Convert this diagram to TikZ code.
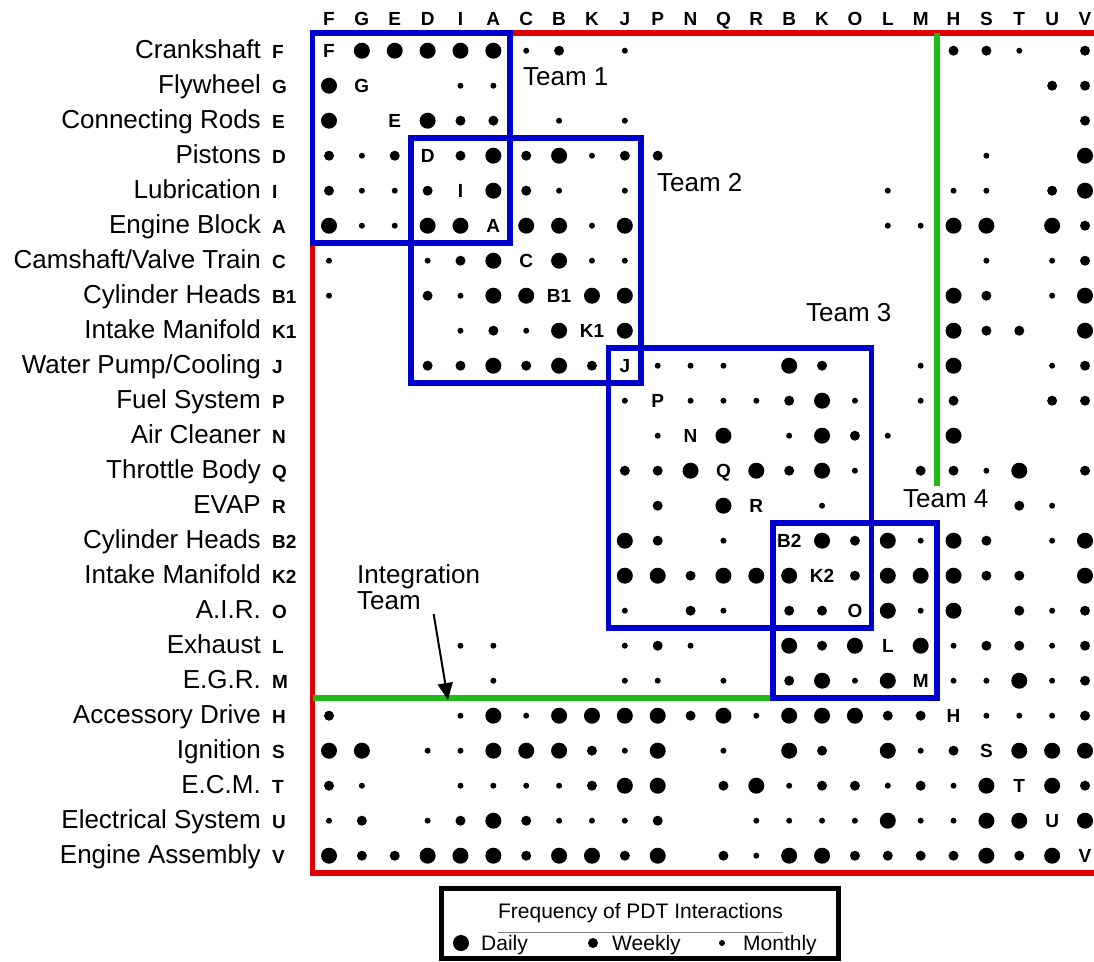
\documentclass[tikz,border=0pt]{standalone}
\usepackage{fontspec}
\setmainfont{Liberation Sans}
\usetikzlibrary{arrows.meta}

\definecolor{dsmred}{RGB}{222,0,0}
\definecolor{teamblue}{RGB}{0,0,204}
\definecolor{intgreen}{RGB}{34,184,24}

\begin{document}
\begin{tikzpicture}[
    x=1pt, y=-1pt,
    rowname/.style={anchor=base east, inner sep=0pt, font=\fontsize{26}{26}\selectfont},
    rowtag/.style={anchor=base west, inner sep=0pt, font=\fontsize{19}{19}\selectfont\bfseries},
    celltag/.style={anchor=base, inner sep=0pt, font=\fontsize{19}{19}\selectfont\bfseries},
    teamlbl/.style={anchor=base west, inner sep=0pt, font=\fontsize{26}{26}\selectfont},
    legtext/.style={anchor=base west, inner sep=0pt, font=\fontsize{21}{21}\selectfont},
    teambox/.style={draw=teamblue, line width=5.5pt},
    border/.style={draw=dsmred, line width=5.5pt},
    intline/.style={draw=intgreen, line width=6pt}]
  \useasboundingbox (0,0) rectangle (1094,961);
  % Encabezado de columnas
  \foreach \h [count=\c] in {F,G,E,D,I,A,C,B,K,J,P,N,Q,R,B,K,O,L,M,H,S,T,U,V}
    \node[celltag] (ch\c) at ({329+32.87*(\c-1)},25) {\h};
  % Filas: nombre, letra y diagonal
  \foreach \nm/\tg [count=\r] in {Crankshaft/F, Flywheel/G, Connecting Rods/E,
      Pistons/D, Lubrication/I, Engine Block/A, {Camshaft/Valve Train}/C,
      Cylinder Heads/B1, Intake Manifold/K1, {Water Pump/Cooling}/J,
      Fuel System/P, Air Cleaner/N, Throttle Body/Q, EVAP/R, Cylinder Heads/B2,
      Intake Manifold/K2, A.I.R./O, Exhaust/L, E.G.R./M, Accessory Drive/H,
      Ignition/S, E.C.M./T, Electrical System/U, Engine Assembly/V}{
    \node[rowname] (rn\r) at (261,{58.7+35*(\r-1)}) {\nm};
    \node[rowtag] (rt\r) at (272,{58.7+35*(\r-1)}) {\tg};
    \node[celltag] (dg\r) at ({329+32.87*(\r-1)},{57.7+35*(\r-1)}) {\tg};
  }
  % Puntos (1 mensual, 2 semanal, 3 diario)
  \foreach \vals [count=\r] in {
      {0,3,3,3,3,3,1,2,0,1,0,0,0,0,0,0,0,0,0,2,2,1,0,2},
      {3,0,0,0,1,1,0,0,0,0,0,0,0,0,0,0,0,0,0,0,0,0,2,2},
      {3,0,0,3,2,2,0,1,0,1,0,0,0,0,0,0,0,0,0,0,0,0,0,2},
      {2,1,2,0,2,3,2,3,1,2,2,0,0,0,0,0,0,0,0,0,1,0,0,3},
      {2,1,1,2,0,3,2,1,0,1,0,0,0,0,0,0,0,1,0,1,1,0,2,3},
      {3,1,1,3,3,0,3,3,1,3,0,0,0,0,0,0,0,1,1,3,3,0,3,2},
      {1,0,0,1,2,3,0,3,1,1,0,0,0,0,0,0,0,0,0,0,1,0,1,2},
      {1,0,0,2,1,3,3,0,3,3,0,0,0,0,0,0,0,0,0,3,2,0,1,3},
      {0,0,0,0,1,2,1,3,0,3,0,0,0,0,0,0,0,0,0,3,2,2,0,3},
      {0,0,0,2,2,3,2,3,2,0,1,1,1,0,3,2,0,0,1,3,0,0,1,2},
      {0,0,0,0,0,0,0,0,0,1,0,1,1,1,2,3,1,0,1,2,0,0,2,2},
      {0,0,0,0,0,0,0,0,0,0,1,0,3,0,1,3,2,1,0,3,0,0,0,0},
      {0,0,0,0,0,0,0,0,0,2,2,3,0,3,2,3,1,0,2,2,1,3,0,2},
      {0,0,0,0,0,0,0,0,0,0,2,0,3,0,0,1,0,0,0,0,0,2,1,0},
      {0,0,0,0,0,0,0,0,0,3,2,0,1,0,0,3,2,3,1,3,2,0,1,3},
      {0,0,0,0,0,0,0,0,0,3,3,2,3,3,3,0,2,3,3,3,2,2,0,3},
      {0,0,0,0,0,0,0,0,0,1,0,2,1,0,2,2,0,3,1,3,0,2,1,2},
      {0,0,0,0,1,1,0,0,0,1,2,1,0,0,3,2,3,0,3,1,2,2,1,2},
      {0,0,0,0,0,1,0,0,0,1,1,0,1,0,2,3,1,3,0,1,1,3,1,2},
      {2,0,0,0,1,3,1,3,3,3,3,2,3,1,3,3,3,2,2,0,1,1,1,2},
      {3,3,0,1,1,3,3,3,2,1,3,0,1,0,3,2,0,3,1,2,0,3,3,3},
      {2,1,0,0,1,1,1,1,2,3,3,0,2,3,1,2,2,1,2,1,3,0,3,2},
      {1,2,0,1,2,3,2,1,1,1,2,0,0,1,1,1,1,3,1,1,3,3,0,3},
      {3,2,2,3,3,3,2,3,3,2,3,0,2,1,3,3,2,2,2,2,3,2,3,0}}{
    \foreach \v [count=\c] in \vals {
      \ifnum\v>0
        \pgfmathsetmacro\rad{{0,3,5,8}[\v]}
        \fill ({329+32.87*(\c-1)},{50.7+35*(\r-1)}) circle[radius=\rad pt];
      \fi
    }
  }
  % Borde rojo
  \draw[border] (509.8,33.2) -- (1094,33.2);
  \draw[border] (312.6,243.2) -- (312.6,873.2) -- (1094,873.2);
  % Equipo de integracion (verde)
  \draw[intline] (937.1,33.2) -- (937.1,486);
  \draw[intline] (312.6,698.2) -- (772.8,698.2);
  % Equipos
  \draw[teambox] (312.6,33.2) rectangle (509.8,243.2);
  \draw[teambox] (411.2,138.2) rectangle (641.2,383.2);
  \draw[teambox] (608.4,348.2) rectangle (871.3,628.2);
  \draw[teambox] (772.8,523.2) rectangle (937.1,698.2);
  \node[teamlbl] (team1) at (523,85) {Team 1};
  \node[teamlbl] (team2) at (657,191) {Team 2};
  \node[teamlbl] (team3) at (806,321) {Team 3};
  \node[teamlbl] (team4) at (903,507) {Team 4};
  \node[anchor=north west, inner sep=0pt, align=left,
    font=\fontsize{26}{26}\selectfont] (intg) at (357,564.5) {Integration\\Team};
  \coordinate (intgtip) at (448,700);
  \draw[-{Triangle[length=17pt,width=15pt]}, line width=2pt]
    ([xshift=15pt,yshift=-4pt]intg.south) -- (intgtip);
  % Leyenda
  \draw[line width=5pt] (441,888) rectangle (838,958.5);
  \node[anchor=base, inner sep=0pt, font=\fontsize{21}{21}\selectfont] (legtitle)
    at (640.5,918) {Frequency of PDT Interactions};
  \draw[gray, line width=1pt] ([yshift=-9.6pt]legtitle.south west)
    -- ([yshift=-9.6pt]legtitle.south east);
  \fill (461,943) circle[radius=8pt];
  \node[legtext] (legd) at (481,950.5) {Daily};
  \fill (593,943) circle[radius=5pt];
  \node[legtext] (legw) at (612,950.5) {Weekly};
  \fill (722,943) circle[radius=3pt];
  \node[legtext] (legm) at (743,950.5) {Monthly};
\end{tikzpicture}
\end{document}
